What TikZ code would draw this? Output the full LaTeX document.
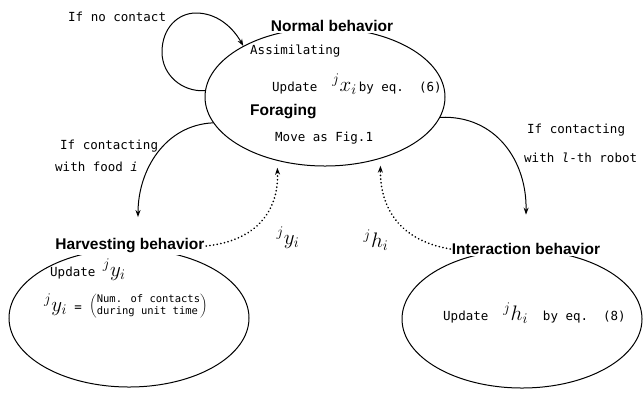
\RequirePackage{fix-cm}
\documentclass[tikz,border=0pt]{standalone}
\usepackage{fontspec}
\setmainfont{Liberation Sans}
\newfontfamily\monof{DejaVu Sans Mono}
\usetikzlibrary{shapes.geometric,arrows.meta}
\newcommand{\bigmath}[1]{{\fontsize{21}{21}\selectfont$#1$}}
\begin{document}
\begin{tikzpicture}[x=1pt,y=-1pt,
  every node/.style={inner sep=0pt},
  state/.style={ellipse, draw, line width=1pt, minimum width=240pt, minimum height=138pt},
  ttl/.style={font=\fontsize{15.5}{17}\selectfont\bfseries, fill=white, inner sep=1.5pt},
  mono/.style={font=\monof\fontsize{12.5}{14}\selectfont, anchor=west},
  lbl/.style={font=\monof\fontsize{12.5}{14}\selectfont, anchor=west},
  conn/.style={line width=1pt, -{Stealth[length=7pt,width=5pt]}},
  dotconn/.style={line width=1.8pt, line cap=round, dash pattern=on 0.1pt off 3.6pt, -{Stealth[length=7pt,width=5pt]}}]
\useasboundingbox[fill=white] (0,0) rectangle (644,392);

\node[state] (normal) at (325,97) {};
\node[state] (harv) at (129,318) {};
\node[state] (inter) at (522,319) {};

\node[ttl] (ntitle) at (332,26) {Normal behavior};
\node[ttl] (htitle) at (130,246) {Harvesting behavior};
\node[ttl] (ititle) at (526,249) {Interaction behavior};

% normal contents
\node[mono] (assim) at (250,51) {Assimilating};
\node[mono] (upx) at (272,84) {Update\ \ \bigmath{^{j}x_{i}}\,by eq.\ \ (6)};
\node[font=\fontsize{15.5}{17}\selectfont\bfseries, anchor=west] (forag) at (250,112) {Foraging};
\node[mono] (move) at (275,138) {Move as Fig.1};

% harvesting contents
\node[mono] (upy) at (50,270) {Update\ \bigmath{^{j}y_{i}}};
\node[mono] (eqy) at (44,306) {\bigmath{^{j}y_{i}} = \bigmath{\left(\vcenter{\hbox{\monof\fontsize{10.5}{12}\selectfont\begin{tabular}{@{}l@{}}Num. of contacts\\during unit time\end{tabular}}}\right)}};

% interaction contents
\node[mono] (uph) at (443,313) {Update\ \ \bigmath{^{j}h_{i}}\ \ by eq.\ \ (8)};

% labels
\node[lbl] (lnc) at (68,17) {If no contact};
\node[lbl] (lfc1) at (60,146) {If contacting};
\node[lbl] (lfc2) at (55,167) {with food \textit{i}};
\node[lbl] (lrc1) at (527,130) {If contacting};
\node[lbl] (lrc2) at (524,158) {with \textit{l}-th robot};
\node (ly) at (288,238) {\bigmath{^{j}y_{i}}};
\node (lh) at (376,240) {\bigmath{^{j}h_{i}}};

% connectors
\draw[conn] (normal.177) .. controls (182,92) and (162,75) .. (162,52)
  .. controls (162,28) and (178,13) .. (196,13)
  .. controls (216,13) and (232,26) .. (normal.148);
\draw[conn] (normal.193) .. controls (165,125) and (138,170) .. ([xshift=8pt,yshift=20pt]htitle.north);
\draw[conn] (normal.350) .. controls (495,115) and (527,160) .. ([yshift=27pt]ititle.north);
\draw[dotconn, shorten >=7pt] (htitle.east) .. controls (262,240) and (279,205) .. (normal.233);
\draw[dotconn, shorten >=7pt] (ititle.west) .. controls (397,240) and (380,205) .. (normal.312);
\end{tikzpicture}
\end{document}
